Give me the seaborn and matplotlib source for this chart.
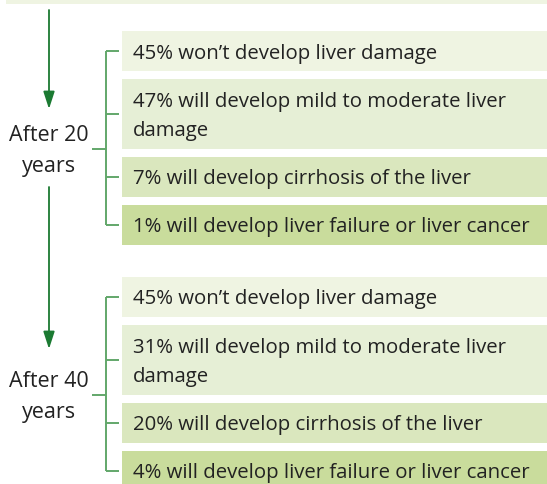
import matplotlib
matplotlib.use("Agg")
import matplotlib.pyplot as plt
import seaborn as sns
from matplotlib.patches import Rectangle

# chart content
periods = ["After 20\nyears", "After 40\nyears"]
outcomes_20 = [
    "45% won\u2019t develop liver damage",
    "47% will develop mild to moderate liver\ndamage",
    "7% will develop cirrhosis of the liver",
    "1% will develop liver failure or liver cancer",
]
outcomes_40 = [
    "45% won\u2019t develop liver damage",
    "31% will develop mild to moderate liver\ndamage",
    "20% will develop cirrhosis of the liver",
    "4% will develop liver failure or liver cancer",
]
box_colors = ["#eff4e2", "#e6efd6", "#dae7be", "#c9dc9c"]

# layout in pixels
W, H = 547, 485
group_tops = [32, 278]
row_heights = [40, 70, 40, 40]
row_gap = 8
box_x = 122
text_x = 133
bracket_x = 106
label_x = 49
label_offset = 119
arrows = [(11, 110), (188, 350)]
arrow_color = "#1b7a32"
bracket_color = "#62a76a"
text_color = "#222222"

sns.set_theme(style="white")
plt.rcParams["font.family"] = ["Open Sans", "DejaVu Sans"]

fig = plt.figure(figsize=(W / 100, H / 100), dpi=100)
ax = fig.add_axes([0, 0, 1, 1])
ax.set_xlim(0, W)
ax.set_ylim(H, 0)
ax.axis("off")

# strip at top
ax.add_patch(Rectangle((6, 0), W - 6, 5, color=box_colors[0], lw=0))

for (y0, y1) in arrows:
    ax.annotate("", xy=(label_x, y1), xytext=(label_x, y0),
                arrowprops=dict(arrowstyle="-|>,head_length=1.05,head_width=0.34",
                                mutation_scale=10, color=arrow_color, lw=1.3,
                                shrinkA=0, shrinkB=0))

for top, period, outcomes in zip(group_tops, periods, [outcomes_20, outcomes_40]):
    y = top
    centers = []
    for h, txt, col in zip(row_heights, outcomes, box_colors):
        ax.add_patch(Rectangle((box_x, y), W - box_x, h, color=col, lw=0))
        ax.text(text_x, y + h / 2 + 1.5, txt, ha="left", va="center",
                fontsize=14.7, color=text_color, linespacing=1.58)
        centers.append(y + h / 2)
        y += h + row_gap
    mid = top + label_offset
    ax.plot([bracket_x, bracket_x], [centers[0], centers[-1]],
            color=bracket_color, lw=1.4, solid_capstyle="butt")
    for c in centers:
        ax.plot([bracket_x, 119], [c, c], color=bracket_color, lw=1.4,
                solid_capstyle="butt")
    ax.plot([92, bracket_x], [top + 118, top + 118], color=bracket_color, lw=1.4,
            solid_capstyle="butt")
    ax.text(label_x, mid, period, ha="center", va="center", fontsize=15.5,
            color=text_color, linespacing=1.6)

fig.savefig("out.png", dpi=100)
